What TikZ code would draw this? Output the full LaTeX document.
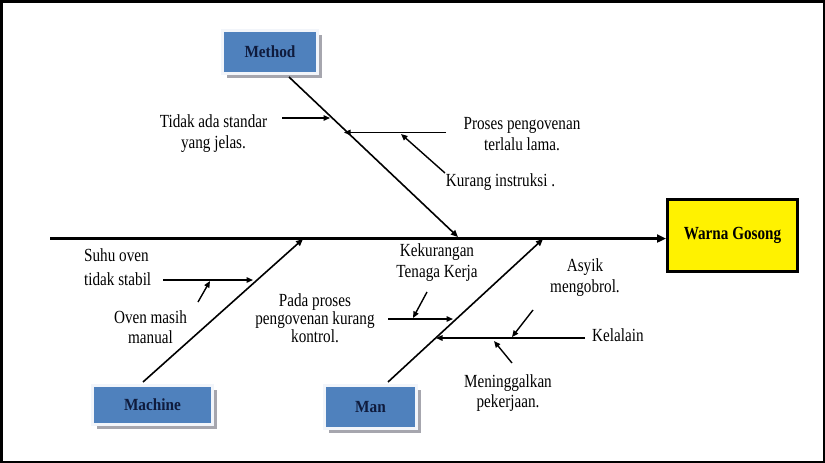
\documentclass[tikz,border=0pt]{standalone}
\usepackage{fontspec}
\setmainfont{Liberation Serif}[FakeStretch=0.82]
\newfontfamily\boxfont{Liberation Serif}[FakeStretch=0.9]
\usetikzlibrary{arrows.meta,shadows}
\definecolor{catblue}{HTML}{4F81BD}
\definecolor{navy}{HTML}{0F1B3D}
\definecolor{shadowgray}{HTML}{A6A6AE}
\definecolor{rimwhite}{HTML}{F2F5FA}
\begin{document}
\begin{tikzpicture}[x=1pt,y=-1pt,
  lbl/.style={align=center, inner sep=0pt},
  catbox/.style={fill=catblue, draw=rimwhite, line width=3pt,
    font=\boxfont\fontsize{17}{20}\selectfont\bfseries, text=navy, inner sep=0pt,
    drop shadow={shadow xshift=4.5pt, shadow yshift=-4.5pt, fill=shadowgray, opacity=1}},
  effectbox/.style={draw=black, fill=yellow, line width=3pt, inner sep=0pt,
    font=\fontsize{18.5}{20}\selectfont\bfseries},
  bone/.style={line width=1.6pt, -{Triangle[length=7pt,width=6pt]}},
  subarrow/.style={line width=1.4pt, -{Triangle[length=6.5pt,width=5.5pt]}},
]
\useasboundingbox (0,0) rectangle (825,463);
\fill[black] (0,0) rectangle (825,463);
\fill[white] (2.5,2.5) rectangle (822.5,460.5);

% boxes
\node[catbox, minimum width=95pt, minimum height=43pt] (method) at (270,52) {Method};
\node[catbox, minimum width=120pt, minimum height=39pt] (machine) at (152.5,405) {Machine};
\node[catbox, minimum width=92pt, minimum height=43pt] (man) at (370.5,407) {Man};
\node[effectbox, minimum width=130pt, minimum height=72pt] (effect) at (732.5,235) {Warna Gosong};

% spine
\coordinate (tail) at (50,238.5);
\draw[line width=3pt, -{Triangle[length=9pt,width=8pt]}] (tail) -- (tail -| effect.west);

% bones
\coordinate (mB) at (289,77);   \coordinate (mE) at (458,237);
\coordinate (maB) at (143,382); \coordinate (maE) at (303,239);
\coordinate (nB) at (388,382);  \coordinate (nE) at (543,239);
\draw[bone] (mB) -- (mE);
\draw[bone] (maB) -- (maE);
\draw[bone] (nB) -- (nE);

% labels
\node[lbl, font=\fontsize{18.5}{21}\selectfont] (t1) at (213.5,134) {Tidak ada standar\\yang jelas.};
\node[lbl, font=\fontsize{18.5}{21}\selectfont] (t2) at (522,134) {Proses pengovenan\\terlalu lama.};
\node[lbl, font=\fontsize{18.5}{21}\selectfont] (t3) at (500.5,182) {Kurang instruksi .};
\node[lbl, align=left, anchor=west, font=\fontsize{18.5}{24}\selectfont] (t4) at (84,267.5) {Suhu oven\\tidak stabil};
\node[lbl, font=\fontsize{18.5}{20}\selectfont] (t5) at (150.5,327) {Oven masih\\manual};
\node[lbl, font=\fontsize{18.5}{18}\selectfont] (t6) at (315,318) {Pada proses\\pengovenan kurang\\kontrol.};
\node[lbl, font=\fontsize{18.5}{21}\selectfont] (t7) at (437,262.5) {Kekurangan\\Tenaga Kerja};
\node[lbl, font=\fontsize{18.5}{21}\selectfont] (t8) at (585,278) {Asyik\\mengobrol.};
\node[lbl, anchor=west, font=\fontsize{18.5}{21}\selectfont] (t9) at (592,335) {Kelalain};
\node[lbl, font=\fontsize{18.5}{20}\selectfont] (t10) at (508,393) {Meninggalkan\\pekerjaan.};

% sub-cause arrows
\coordinate (a1s) at (282,118);   \coordinate (a1e) at (330,118);
\coordinate (a2s) at (446,132.5); \coordinate (a2e) at (344,132.5);
\coordinate (a3s) at (445,173);   \coordinate (a3e) at (401,134);
\coordinate (a4s) at (163,280);   \coordinate (a4e) at (253,280);
\coordinate (a5s) at (198,302);   \coordinate (a5e) at (210,281);
\coordinate (a6s) at (388,319);   \coordinate (a6e) at (453,319);
\coordinate (a7s) at (427,292);   \coordinate (a7e) at (413,318);
\coordinate (a8s) at (585,338);   \coordinate (a8e) at (436,338);
\coordinate (a9s) at (533,310);   \coordinate (a9e) at (512,337);
\coordinate (a10s) at (512,363);  \coordinate (a10e) at (494,341);
\foreach \i in {1,...,10} {\draw[subarrow] (a\i s) -- (a\i e);}
\end{tikzpicture}
\end{document}
